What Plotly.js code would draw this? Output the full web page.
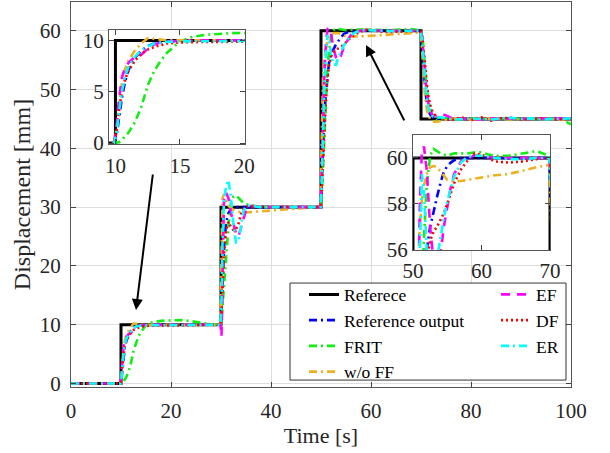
<!DOCTYPE html>
<html>
<head>
<meta charset="utf-8">
<script src="https://cdn.plot.ly/plotly-3.0.1.min.js"></script>
<style>html,body{margin:0;padding:0;background:#fff;}#chart{width:610px;height:453px;}</style>
</head>
<body>
<div id="chart"></div>
<script>
// ---- Data ----
// Reference step signal
const refT = [0, 10, 10, 30, 30, 50, 50, 70, 70, 100];
const refY = [0, 0, 10, 10, 30, 30, 60, 60, 45, 45];

// Shared time vector for the measured responses [s]
const t = [
  0, 5,
  9.9, 10.1, 10.25, 10.5, 10.75, 11, 11.5, 12, 12.5, 13, 13.5, 14, 15, 16, 17, 18, 19, 20, 22, 24, 26, 28,
  29.9, 30.1, 30.3, 30.6, 31, 31.5, 32, 32.5, 33, 33.5, 34, 34.5, 35, 36, 37, 38, 40, 42, 44, 46, 48,
  49.9, 50.1, 50.4, 50.7, 51, 51.3, 51.6, 52, 52.5, 53, 53.5, 54, 54.5, 55, 55.5, 56, 57, 58, 59, 60, 61, 62, 64, 66, 68,
  69.9, 70.2, 70.5, 70.8, 71.1, 71.4, 71.8, 72.3, 73, 74, 75, 76, 77, 78, 80, 82, 84, 86, 88, 90, 92, 94, 96, 98, 100
];

const refOut = [
  0, 0,
  0, 0.8, 2.2, 4.4, 6.0, 7.1, 8.3, 9.0, 9.45, 9.7, 9.82, 9.9, 9.96, 9.98, 10, 10, 10, 10, 10, 10, 10, 10,
  10, 12, 17, 23, 27.2, 29.0, 29.7, 29.9, 30, 30, 30, 30, 30, 30, 30, 30, 30, 30, 30, 30, 30,
  30, 33, 40, 46, 49.5, 52.5, 54.5, 56.0, 57.0, 57.7, 58.3, 58.9, 59.4, 59.65, 59.8, 59.9, 60, 60, 60, 60, 60, 60, 60, 60, 60,
  60, 58, 54, 50.5, 48.2, 46.8, 45.8, 45.3, 45.05, 45, 45, 45, 45, 45, 45, 45, 45, 45, 45, 45, 45, 45, 45, 45, 45
];

const frit = [
  0, 0,
  0, 0, 0.05, 0.3, 0.65, 1.0, 2.0, 3.5, 5.6, 7.0, 8.0, 8.8, 9.9, 10.35, 10.55, 10.65, 10.7, 10.72, 10.8, 10.6, 10.3, 10.1,
  10, 10.5, 13, 16.5, 20, 27, 30.8, 31.8, 32.0, 31.6, 31.1, 30.7, 30.5, 30.3, 30.1, 30, 30, 30, 30, 30, 30,
  30, 31, 37, 44, 50, 54, 56.5, 58.8, 60.1, 60.4, 60.3, 60.2, 60.15, 60.1, 60.15, 60.2, 60.2, 60.2, 60.25, 60.25, 60.15, 60.1, 60.1, 60.2, 60.3,
  60.1, 59.6, 57, 53.5, 50.5, 48.5, 46.8, 45.5, 44.8, 45.0, 45.1, 45.0, 44.9, 45.0, 45.1, 45.0, 45.0, 45.1, 45.0, 45.0, 45.1, 45.0, 45.0, 45.0, 44.1
];

const woFF = [
  0, 0,
  0, 1.5, 3.5, 5.8, 7.2, 8.0, 9.0, 9.7, 10.2, 10.15, 10.05, 10.0, 10.0, 10.0, 10, 10, 10, 10, 10, 10, 10, 10,
  10, 22, 31.5, 32.2, 31.0, 30.2, 29.8, 29.5, 29.3, 29.2, 29.1, 29.05, 29.1, 29.15, 29.2, 29.3, 29.4, 29.55, 29.7, 29.8, 29.9,
  30, 40, 52, 55.5, 57, 58.2, 58.8, 59.3, 59.6, 59.65, 59.6, 59.4, 59.2, 59.05, 59.0, 59.0, 59.0, 59.05, 59.1, 59.15, 59.2, 59.25, 59.3, 59.45, 59.6,
  59.7, 57, 52.5, 49, 47, 45.8, 45.0, 44.6, 44.5, 44.7, 44.9, 45.0, 45.1, 45.0, 44.9, 45.0, 45.1, 45.0, 44.9, 45.0, 45.0, 45.1, 45.0, 44.9, 45.0
];

const ef = [
  0, 0,
  0, 1.8, 4.0, 6.4, 7.3, 7.8, 8.4, 8.6, 9.2, 9.6, 9.8, 9.9, 9.95, 10, 10, 10, 10, 10, 10, 10, 10, 10,
  10, 8, 20, 31.5, 32.5, 31.5, 29, 27, 25.5, 25, 26.5, 28.3, 29.5, 30.2, 30.1, 30, 30, 30, 30, 30, 30,
  30, 35, 45, 53, 58, 60.3, 60.5, 59.5, 57, 55.5, 55, 55.8, 57, 57.9, 58.7, 59.3, 59.85, 60.05, 60.1, 60.1, 60.05, 60, 60, 60, 60,
  60, 59, 56.5, 53, 50, 48, 46.5, 45.6, 45.6, 45.9, 45.6, 45.2, 45.0, 45.1, 45.0, 44.9, 45.1, 45.0, 45.1, 45.0, 45.0, 45.1, 45.0, 45.1, 45.1
];

const df = [
  0, 0,
  0, 1.2, 3.0, 5.0, 6.2, 7.0, 8.0, 8.7, 9.1, 9.35, 9.55, 9.7, 9.8, 9.85, 9.85, 9.85, 9.85, 9.85, 9.85, 9.85, 9.95, 10,
  10, 12, 16, 22, 26, 27.5, 26.6, 26.1, 26.2, 27.2, 28.8, 29.7, 30.1, 30.1, 30, 30, 30, 30, 30, 30, 30,
  30, 32, 38, 44, 48.5, 52, 54, 55.6, 56.4, 56.8, 57.0, 57.3, 57.6, 58.0, 58.5, 58.9, 59.5, 59.9, 60.2, 60.15, 60.0, 59.85, 59.8, 59.85, 59.95,
  60, 59.5, 57.5, 54.5, 51.5, 49.3, 47.5, 46.2, 45.4, 45.1, 45.0, 44.8, 45.0, 45.3, 44.8, 45.3, 44.7, 45.1, 45.2, 44.9, 45.0, 45.1, 44.9, 45.0, 45.0
];

const er = [
  0, 0,
  0, 1.0, 2.8, 5.0, 6.5, 7.4, 8.4, 9.0, 9.4, 9.7, 9.8, 9.85, 9.9, 9.9, 9.92, 9.95, 9.95, 9.95, 10, 10, 10, 10,
  10, 14, 24, 31, 33.5, 34.6, 31.5, 27, 24, 24.2, 27, 29.3, 30.2, 30.3, 30.1, 30, 30, 30, 30, 30, 30,
  30, 33, 43, 51, 56, 59.3, 58.5, 56, 54.3, 54.2, 55.6, 56.6, 57.4, 58.1, 58.7, 59.2, 59.8, 60.05, 60.1, 60.1, 60.05, 60, 59.95, 59.95, 60,
  60, 58.5, 55, 51.5, 48.8, 47.2, 46, 45.5, 45.2, 45.3, 45.1, 45.0, 44.9, 45.0, 45.1, 45.0, 44.9, 45.1, 45.2, 45.0, 45.1, 44.9, 45.0, 45.1, 45.1
];

const seriesNames = ['Referece', 'Reference output', 'FRIT', 'w/o FF', 'EF', 'DF', 'ER'];

const mainXTicks = [0, 20, 40, 60, 80, 100];
const mainYTicks = [0, 10, 20, 30, 40, 50, 60];
const inset1XTicks = [10, 15, 20];
const inset1YTicks = [0, 5, 10];
const inset2XTicks = [50, 60, 70];
const inset2YTicks = [56, 58, 60];

// ---- Styles ----
const DASHDOT = '8px,4px,2px,4px';
const series = [
  {name: seriesNames[0], x: refT, y: refY,  color: '#000000', dash: 'solid',   width: 3,   legend: 'legend'},
  {name: seriesNames[1], x: t,    y: refOut, color: '#0000ff', dash: DASHDOT,   width: 2.6, legend: 'legend'},
  {name: seriesNames[2], x: t,    y: frit,  color: '#11ee11', dash: DASHDOT,   width: 2.6, legend: 'legend'},
  {name: seriesNames[3], x: t,    y: woFF,  color: '#EDB120', dash: DASHDOT,   width: 2.6, legend: 'legend'},
  {name: seriesNames[4], x: t,    y: ef,    color: '#ff00ff', dash: '9px,7px', width: 2.6, legend: 'legend2'},
  {name: seriesNames[5], x: t,    y: df,    color: '#ff0000', dash: '2px,3px', width: 2.6, legend: 'legend2'},
  {name: seriesNames[6], x: t,    y: er,    color: '#00ffff', dash: DASHDOT,   width: 2.6, legend: 'legend2'}
];

const traces = [];
const axesSets = [['x', 'y', true], ['x2', 'y2', false], ['x3', 'y3', false]];
axesSets.forEach(([xa, ya, leg]) => {
  series.forEach(s => {
    traces.push({
      type: 'scatter', mode: 'lines', x: s.x, y: s.y, name: s.name,
      xaxis: xa, yaxis: ya, showlegend: leg, legend: s.legend,
      line: {color: s.color, width: s.width, dash: s.dash},
      hoverinfo: 'skip'
    });
  });
});

const FONT = "'Liberation Serif', 'Times New Roman', serif";
const axisCommon = {
  ticks: 'inside', ticklen: 5, tickwidth: 1, tickcolor: '#444',
  showline: true, linecolor: '#555', linewidth: 1, mirror: 'ticks',
  zeroline: false, tickfont: {family: FONT, size: 21, color: '#262626'}
};

const layout = {
  width: 610, height: 453,
  margin: {l: 71, r: 39, t: 2, b: 66},
  paper_bgcolor: '#ffffff', plot_bgcolor: '#ffffff',
  font: {family: FONT, size: 21, color: '#262626'},
  xaxis: Object.assign({}, axisCommon, {
    domain: [0, 1], anchor: 'y', range: [0, 100], tickmode: 'array', tickvals: mainXTicks,
    showgrid: true, gridcolor: '#dedede', gridwidth: 1, ticklabelstandoff: 5,
    title: {text: 'Time [s]', font: {family: FONT, size: 22, color: '#262626'}, standoff: 5}
  }),
  yaxis: Object.assign({}, axisCommon, {
    domain: [0, 1], anchor: 'x', range: [-0.6, 64.9], tickmode: 'array', tickvals: mainYTicks,
    showgrid: true, gridcolor: '#dedede', gridwidth: 1, ticklabelstandoff: 5,
    title: {text: 'Displacement [mm]', font: {family: FONT, size: 24, color: '#262626'}, standoff: 2}
  }),
  xaxis2: Object.assign({}, axisCommon, {
    domain: [0.076, 0.348], anchor: 'y2', range: [9.5, 20.05], tickmode: 'array', tickvals: inset1XTicks, showgrid: false,
    ticklabelstandoff: 3
  }),
  yaxis2: Object.assign({}, axisCommon, {
    domain: [0.631, 0.927], anchor: 'x2', range: [-0.1, 11], tickmode: 'array', tickvals: inset1YTicks, showgrid: false
  }),
  xaxis3: Object.assign({}, axisCommon, {
    domain: [0.684, 0.958], anchor: 'y3', range: [50, 70], tickmode: 'array', tickvals: inset2XTicks, showgrid: false,
    ticklabelstandoff: 2
  }),
  yaxis3: Object.assign({}, axisCommon, {
    domain: [0.356, 0.6545], anchor: 'x3', range: [56, 61], tickmode: 'array', tickvals: inset2YTicks, showgrid: false
  }),
  legend: {
    x: 0.466, y: 0.287, xanchor: 'left', yanchor: 'top', bgcolor: 'rgba(0,0,0,0)', borderwidth: 0,
    font: {family: FONT, size: 17.5, color: '#000000'}, tracegroupgap: 0
  },
  legend2: {
    x: 0.85, y: 0.287, xanchor: 'left', yanchor: 'top', bgcolor: 'rgba(0,0,0,0)', borderwidth: 0,
    font: {family: FONT, size: 17.5, color: '#000000'}, tracegroupgap: 0
  },
  shapes: [{
    type: 'rect', xref: 'paper', yref: 'paper', x0: 0.438, x1: 0.99, y0: 0.018, y1: 0.270,
    fillcolor: '#ffffff', line: {color: '#333333', width: 1}, layer: 'above'
  }],
  annotations: [
    {x: 13, y: 12.5, xref: 'x', yref: 'y', ax: 17, ay: -137, text: '', showarrow: true,
     arrowhead: 2, arrowsize: 1.1, arrowwidth: 2, arrowcolor: '#000000'},
    {x: 59, y: 57.6, xref: 'x', yref: 'y', ax: 39, ay: 77, text: '', showarrow: true,
     arrowhead: 2, arrowsize: 1.1, arrowwidth: 2, arrowcolor: '#000000'}
  ],
  showlegend: true
};

Plotly.newPlot('chart', traces, layout, {staticPlot: true, displayModeBar: false});
</script>
</body>
</html>
